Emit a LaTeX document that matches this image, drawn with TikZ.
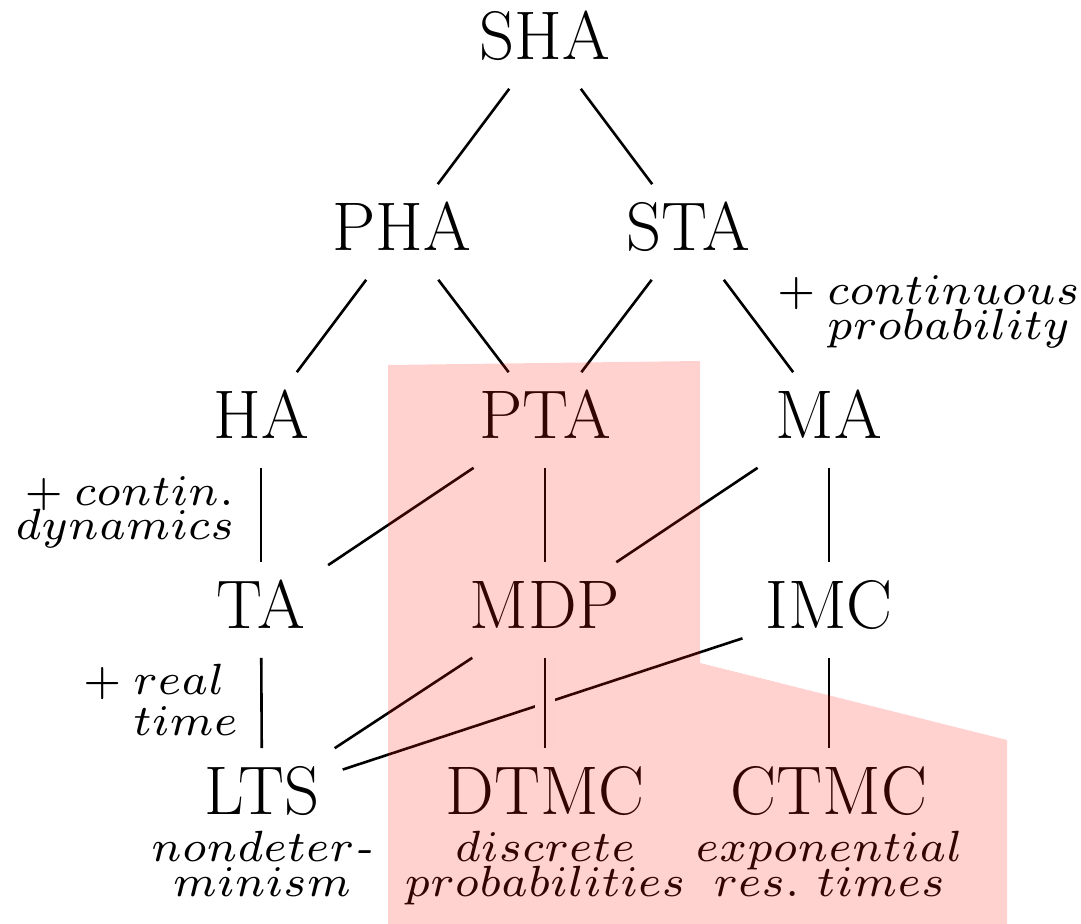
\documentclass[tikz,border=0pt]{standalone}
\usepackage{graphicx}
\definecolor{tint}{rgb}{1,0.1,0.05}
\newcommand\notescale{3.12}
% two-line italic notes, set at 7pt and enlarged
\newcommand\notec[3]{\scalebox{\notescale}{\fontsize{7}{8}\selectfont
  \vtop{\baselineskip=#1pt\lineskiplimit=-\maxdimen\halign{\hfil##\hfil\cr#2\cr#3\cr}}}}
\newcommand\noter[3]{\scalebox{\notescale}{\fontsize{7}{8}\selectfont
  \vtop{\baselineskip=#1pt\lineskiplimit=-\maxdimen\halign{\hfil##\cr#2\cr#3\cr}}}}
\newcommand\notep[4]{\scalebox{\notescale}{\fontsize{7}{8}\selectfont
  \vtop{\baselineskip=#1pt\lineskiplimit=-\maxdimen\halign{##&##\hfil\cr$+$\hskip#2pt&#3\cr&#4\cr}}}}
\begin{document}
\begin{tikzpicture}[x=0.5pt,y=-0.5pt,
  model/.style={font=\fontsize{34.4}{40}\selectfont, inner xsep=11.5pt, inner ysep=9.5pt,
    text height=23.5pt, text depth=5.3pt, outer sep=0pt},
  link/.style={line width=1.3pt},
  bridge/.style={link, preaction={draw=white, line width=10pt}},
  note/.style={inner sep=0pt, outer sep=0pt},
  region/.style={fill=tint, fill opacity=0.2}]
\useasboundingbox (0,0) rectangle (1081,924);

% models
\node[model] (SHA) at (545,41) {SHA};
\node[model] (PHA) at (402,232) {PHA};
\node[model] (STA) at (688,232) {STA};
\node[model] (HA) at (261,420) {HA};
\node[model] (PTA) at (545,420) {PTA};
\node[model] (MA) at (829,420) {MA};
\node[model] (TA) at (261,610) {TA};
\node[model] (MDP) at (545,610) {MDP};
\node[model] (IMC) at (829,610) {IMC};
\node[model] (LTS) at (262,796) {LTS};
\node[model] (DTMC) at (545,796) {DTMC};
\node[model] (CTMC) at (829,796) {CTMC};

% annotations
\node[note, anchor=base west] (contprob) at (777,305)
  {\notep{5.6}{1.9}{$continuous$}{$probability$}};
\node[note, anchor=base east] (contdyn) at (234,506)
  {\noter{5.3}{$+\hskip1.8pt contin.$}{$dynamics$}};
\node[note, anchor=base west] (realtime) at (83,694)
  {\notep{6.7}{1.9}{$real$}{$time$}};
\node[note, anchor=base] (ndet) at (262,861)
  {\notec{5.75}{$nondeter$\textit{-}}{$minism$}};
\node[note, anchor=base] (dprob) at (545,861)
  {\notec{5.75}{$discrete$}{$probabilities$}};
\node[note, anchor=base] (expo) at (829,861)
  {\notec{5.75}{$exponential$}{$res.\ times$}};

% inclusions
\draw[link] (SHA) -- (PHA);
\draw[link] (SHA) -- (STA);
\draw[link] (PHA) -- (HA);
\draw[link] (PHA) -- (PTA);
\draw[link] (STA) -- (PTA);
\draw[link] (STA) -- (MA);
\draw[link] (HA) -- (TA);
\draw[link] (PTA) -- (TA);
\draw[link] (PTA) -- (MDP);
\draw[link] (MA) -- (MDP);
\draw[link] (MA) -- (IMC);
\draw[link] (TA) -- (LTS);
\draw[link] (MDP) -- (LTS);
\draw[link] (IMC) -- (LTS);
\draw[link] (IMC) -- (CTMC);
\draw[bridge] (MDP) -- (DTMC);

% purely probabilistic models
\fill[region] (388,365) -- (700,361) -- (700,663) -- (1007,740) -- (1007,924) -- (388,924) -- cycle;
\end{tikzpicture}
\end{document}
